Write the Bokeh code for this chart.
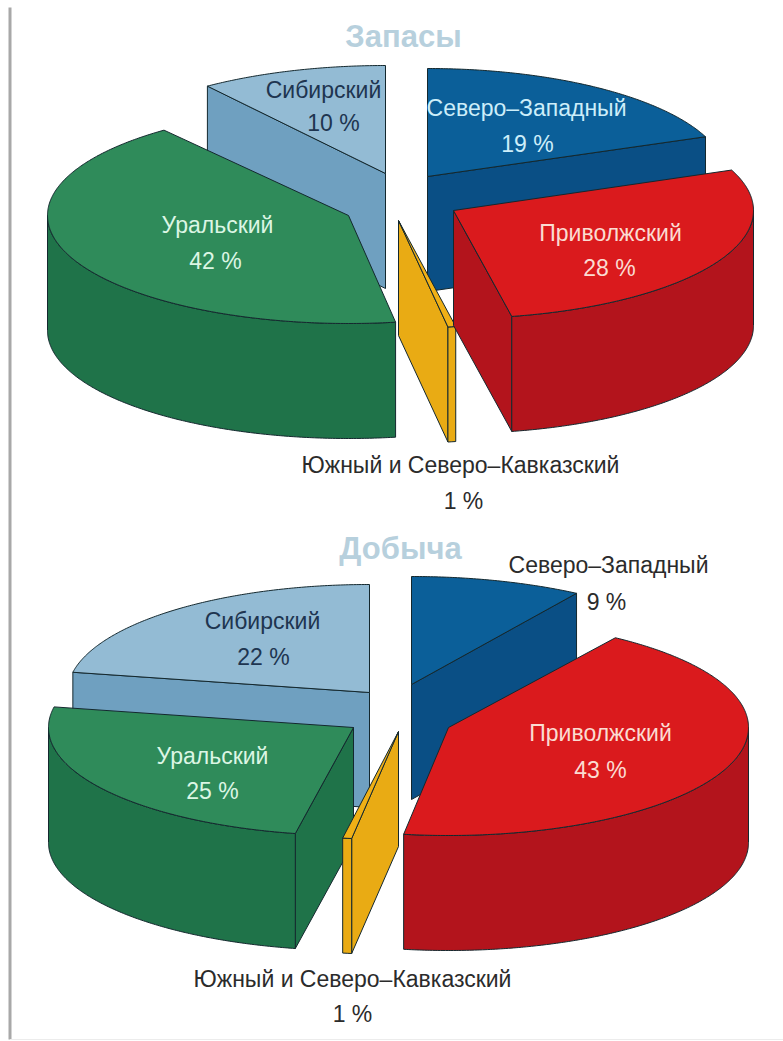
import math
from bokeh.plotting import figure
from bokeh.embed import file_html
from bokeh.resources import INLINE
from bokeh.core.properties import value

# --- data ---
regions_top = ["Северо–Западный", "Приволжский", "Южный и Северо–Кавказский", "Уральский", "Сибирский"]
shares_top = [19, 28, 1, 42, 10]
regions_bottom = ["Северо–Западный", "Приволжский", "Южный и Северо–Кавказский", "Уральский", "Сибирский"]
shares_bottom = [9, 43, 1, 25, 22]
titles = ["Запасы", "Добыча"]

# --- styles and layout ---
TOP_C = {"nw": "#0b5f99", "vol": "#da1a1d", "south": "#f0b016", "ural": "#2f8b5a", "sib": "#93bbd4"}
WALL_C = {"nw": "#0a4f85", "vol": "#b3141c", "south": "#e9ab14", "ural": "#1f7349", "sib": "#6fa0c0"}
KEYS = ["nw", "vol", "south", "ural", "sib"]
TXT_C = {"nw": "#cdeefa", "vol": "#fbdcd2", "south": "#2b2b2b", "ural": "#dcf6e4", "sib": "#1e3550"}
EDGE = "#14282e"
FONT = "Liberation Sans"

# per-slice: apex x, apex y, radius, start angle (deg clockwise from north), span scale
LAYOUT_TOP = {
    "nw": (427, 176, 299, 0, 1), "vol": (453, 210, 300, 68, 1), "south": (398, 220, 300, 169, .42),
    "ural": (348, 215, 301, 171, 1), "sib": (385, 173, 303, 324, 1),
}
LAYOUT_BOTTOM = {
    "nw": (411, 684, 308, 0, 1), "vol": (448, 727, 300, 33.8, 1), "south": (398, 731, 345, 187.8, .42),
    "ural": (353, 727, 305, 191, 1), "sib": (369, 692, 302, 280.8, 1),
}
RY = 108
DEPTH = 115


def pt(cx, cy, r, ang):
    t = math.radians(ang)
    return cx + r * math.sin(t), cy - RY * math.cos(t)


def arc(cx, cy, r, a, b):
    n = max(2, int(abs(b - a)) * 2)
    return [pt(cx, cy, r, a + (b - a) * i / n) for i in range(n + 1)]


p = figure(width=783, height=1041, x_range=(0, 783), y_range=(1041, 0),
           output_backend="svg", toolbar_location=None, min_border=0,
           background_fill_color="white", border_fill_color="white", outline_line_color=None)
p.axis.visible = False
p.grid.visible = False


def poly(pts, fill):
    p.patch([q[0] for q in pts], [q[1] for q in pts], fill_color=fill,
            line_color=EDGE, line_width=1, line_join="round")


def slice3d(key, share, lay):
    cx, cy, r, a, sc = lay
    b = a + share * 3.6 * sc
    apex = (cx, cy)
    if math.sin(math.radians(a)) < -1e-6:
        e = pt(cx, cy, r, a)
        poly([apex, e, (e[0], e[1] + DEPTH), (cx, cy + DEPTH)], WALL_C[key])
    if math.sin(math.radians(b)) > 1e-6:
        e = pt(cx, cy, r, b)
        poly([apex, e, (e[0], e[1] + DEPTH), (cx, cy + DEPTH)], WALL_C[key])
    lo, hi = max(a, 90), min(b, 270)
    if hi > lo:
        front = arc(cx, cy, r, lo, hi)
        poly(front + [(q[0], q[1] + DEPTH) for q in reversed(front)], WALL_C[key])
    poly([apex] + arc(cx, cy, r, a, b), TOP_C[key])


for order, shares, lay in (
    (["nw", "sib", "ural", "south", "vol"], shares_top, LAYOUT_TOP),
    (["sib", "nw", "ural", "south", "vol"], shares_bottom, LAYOUT_BOTTOM),
):
    for k in order:
        slice3d(k, shares[KEYS.index(k)], lay[k])


# --- labels ---
def label(x, y, txt, color, size="23px", style="normal"):
    p.text([x], [y], text=[txt], text_font=value(FONT), text_font_size=size, text_font_style=style,
           text_color=color, text_align="center", text_baseline="middle")


POS_TOP = {"nw": ((526, 107), (527, 143)), "vol": ((610, 232), (609, 267)),
           "south": ((460, 464), (463, 500)), "ural": ((217, 224), (215, 260)), "sib": ((323, 89), (333, 122))}
POS_BOTTOM = {"nw": ((608, 564), (606, 601)), "vol": ((600, 732), (600, 769)),
              "south": ((352, 978), (352, 1013)), "ural": ((212, 755), (212, 790)), "sib": ((262, 620), (263, 656))}

for regions, shares, pos in ((regions_top, shares_top, POS_TOP), (regions_bottom, shares_bottom, POS_BOTTOM)):
    for i, k in enumerate(KEYS):
        col = "#2b2b2b" if (k == "nw" and pos is POS_BOTTOM) else TXT_C[k]
        label(*pos[k][0], regions[i], col)
        label(*pos[k][1], f"{shares[i]} %", col)

label(403, 36, titles[0], "#b7d0dd", "31px", "bold")
label(400, 548, titles[1], "#b7d0dd", "31px", "bold")

# frame lines
p.segment([9.5], [7], [9.5], [1039], line_color="#a8a8a8", line_width=3)
p.segment([9.5], [1039], [783], [1039], line_color="#ececec", line_width=1)

open("out.html", "w").write(file_html(p, INLINE))
